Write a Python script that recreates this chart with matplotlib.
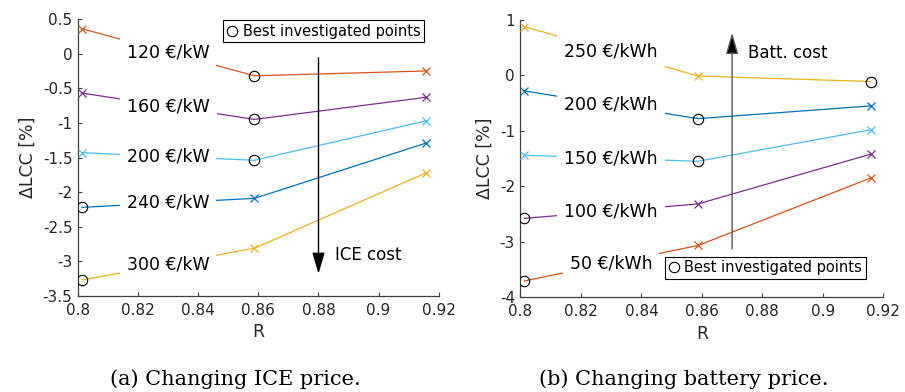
import matplotlib
matplotlib.use("Agg")
import matplotlib.pyplot as plt
from matplotlib.lines import Line2D
from matplotlib.ticker import FormatStrFormatter, MultipleLocator

plt.rcParams["font.family"] = ["DejaVu Sans"]
plt.rcParams["axes.unicode_minus"] = False

# Investigated ratios R
r_values = [0.8013, 0.8587, 0.9159]

# (a) ICE price variation
ice_labels = ["120 €/kW", "160 €/kW", "200 €/kW", "240 €/kW", "300 €/kW"]
ice_lcc = [
    [0.36, -0.32, -0.25],
    [-0.57, -0.95, -0.63],
    [-1.43, -1.54, -0.97],
    [-2.22, -2.09, -1.29],
    [-3.27, -2.81, -1.72],
]
ice_best = [1, 1, 1, 0, 0]
ice_colors = ["#D95319", "#7E2F8E", "#4DBEEE", "#0072BD", "#EDB120"]

# (b) battery price variation
bat_labels = ["250 €/kWh", "200 €/kWh", "150 €/kWh", "100 €/kWh", "50 €/kWh"]
bat_lcc = [
    [0.88, -0.01, -0.11],
    [-0.28, -0.78, -0.55],
    [-1.44, -1.55, -0.98],
    [-2.58, -2.32, -1.42],
    [-3.71, -3.07, -1.85],
]
bat_best = [2, 1, 1, 0, 0]
bat_colors = ["#EDB120", "#0072BD", "#4DBEEE", "#7E2F8E", "#D95319"]

AX_COLOR = "#404040"

fig = plt.figure(figsize=(9.05, 3.92), dpi=100)
ax1 = fig.add_axes([0.0862, 0.2449, 0.3986, 0.7066])
ax2 = fig.add_axes([0.5751, 0.2423, 0.4009, 0.7066])


def draw_panel(ax, labels, data, best, colors, ylim, ystep):
    for lab, ys, b, col in zip(labels, data, best, colors):
        ax.plot(r_values, ys, color=col, lw=0.9, zorder=2)
        others = [i for i in range(len(r_values)) if i != b]
        ax.plot([r_values[i] for i in others], [ys[i] for i in others],
                color=col, marker="x", ms=6, mew=0.9, ls="none", zorder=3)
        ax.plot(r_values[b], ys[b], marker="o", ms=7.5, mfc="none",
                mec="black", mew=0.8, ls="none", zorder=5)
        xm = (r_values[0] + r_values[1]) / 2
        ym = (ys[0] + ys[1]) / 2
        ax.text(xm, ym, lab, ha="center", va="center", fontsize=12.5,
                color="black", zorder=4,
                bbox=dict(facecolor="white", edgecolor="none", pad=5))
    ax.set_xlim(0.8, 0.92)
    ax.set_ylim(*ylim)
    ax.xaxis.set_major_locator(MultipleLocator(0.02))
    ax.yaxis.set_major_locator(MultipleLocator(ystep))
    ax.xaxis.set_major_formatter(FormatStrFormatter("%g"))
    ax.yaxis.set_major_formatter(FormatStrFormatter("%g"))
    for s in ("top", "right"):
        ax.spines[s].set_visible(False)
    for s in ("left", "bottom"):
        ax.spines[s].set_color(AX_COLOR)
        ax.spines[s].set_linewidth(0.9)
    ax.tick_params(direction="in", length=3, width=0.8, color=AX_COLOR,
                   labelsize=11, labelcolor="#262626")
    ax.tick_params(axis="x", pad=5)
    ax.tick_params(axis="y", pad=4)
    ax.set_xlabel("R", fontsize=12.5, color="#262626", labelpad=4)
    ax.set_ylabel("ΔLCC [%]", fontsize=12.5, color="#262626", labelpad=4)
    handle = Line2D([], [], marker="o", ms=7.5, mfc="none", mec="black",
                    mew=0.8, ls="none")
    return handle


h1 = draw_panel(ax1, ice_labels, ice_lcc, ice_best, ice_colors, (-3.5, 0.5), 0.5)
h2 = draw_panel(ax2, bat_labels, bat_lcc, bat_best, bat_colors, (-4, 1), 1)

legend_kw = dict(fontsize=10.5, frameon=True, fancybox=False, framealpha=1,
                 edgecolor="black", handlelength=0.8, handletextpad=0.3,
                 borderpad=0.25, borderaxespad=0)
leg1 = ax1.legend([h1], ["Best investigated points"], loc="upper right",
                  bbox_to_anchor=(0.959, 0.996), **legend_kw)
leg1.get_frame().set_linewidth(0.8)
leg2 = ax2.legend([h2], ["Best investigated points"], loc="lower right",
                  bbox_to_anchor=(0.952, 0.065), **legend_kw)
leg2.get_frame().set_linewidth(0.8)

# Direction of increasing cost
ax1.annotate("", xy=(0.88, -3.18), xytext=(0.88, -0.06),
             arrowprops=dict(arrowstyle="-|>,head_length=1.3,head_width=0.38",
                             lw=1.0, color="black", mutation_scale=10,
                             shrinkA=0, shrinkB=0), zorder=3)
ax1.text(0.8855, -2.91, "ICE cost", fontsize=12, va="center", ha="left")

ax2.annotate("", xy=(0.87, 0.77), xytext=(0.87, -3.13),
             arrowprops=dict(arrowstyle="-|>,head_length=1.3,head_width=0.38",
                             lw=1.0, edgecolor="#555555", facecolor="black",
                             mutation_scale=10, shrinkA=0, shrinkB=0), zorder=3)
ax2.text(0.8752, 0.40, "Batt. cost", fontsize=12, va="center", ha="left")

fig.text(0.26, 0.017, "(a) Changing ICE price.", fontsize=15,
         family="DejaVu Serif", ha="center", va="baseline")
fig.text(0.755, 0.017, "(b) Changing battery price.", fontsize=15,
         family="DejaVu Serif", ha="center", va="baseline")

fig.savefig("out.png", dpi=100)
